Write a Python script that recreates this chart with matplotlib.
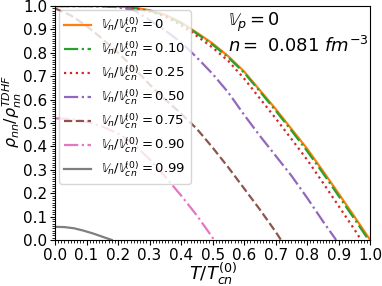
import matplotlib
matplotlib.use("Agg")
import matplotlib.pyplot as plt
from matplotlib.ticker import MultipleLocator, FormatStrFormatter

# superfluid fraction vs T/Tcn for several neutron flows
t_0 = [0, .05, .1, .15, .2, .25, .3, .35, .4, .45, .5, .55, .6, .65, .7, .75, .8, .85, .9, .95, 1.0]
rho_0 = [1.0, 1.0, 1.0, 1.0, .998, .993, .982, .962, .93, .886, .84, .785, .72, .64, .56, .475, .39, .295, .198, .1, 0.0]

t_10 = [0, .05, .1, .15, .2, .25, .3, .35, .4, .45, .5, .55, .6, .65, .7, .75, .8, .85, .9, .95, .995]
rho_10 = [1.0, 1.0, 1.0, 1.0, .998, .992, .98, .96, .927, .882, .835, .78, .715, .635, .553, .468, .38, .286, .188, .09, 0.0]

t_25 = [0, .05, .1, .15, .2, .25, .3, .35, .4, .45, .5, .55, .6, .65, .7, .75, .8, .85, .9, .95, .971]
rho_25 = [1.0, 1.0, 1.0, .999, .996, .99, .977, .955, .918, .872, .822, .765, .69, .605, .52, .432, .343, .245, .145, .045, 0.0]

t_50 = [0, .05, .1, .15, .2, .25, .3, .35, .4, .45, .5, .55, .6, .65, .7, .75, .8, .85, .892]
rho_50 = [1.0, 1.0, 1.0, .999, .995, .982, .94, .895, .845, .78, .71, .63, .535, .445, .36, .275, .18, .08, 0.0]

t_75 = [0, .05, .1, .15, .2, .25, .3, .35, .4, .45, .5, .55, .6, .65, .7, .717]
rho_75 = [.99, .96, .915, .86, .80, .735, .665, .6, .54, .475, .395, .31, .22, .13, .035, 0.0]

t_90 = [0, .05, .1, .15, .2, .25, .3, .35, .4, .45, .5, .503]
rho_90 = [.52, .517, .505, .485, .455, .41, .345, .27, .19, .105, .01, 0.0]

t_99 = [0, .03, .06, .09, .12, .15, .18]
rho_99 = [.056, .055, .05, .04, .028, .014, 0.0]

flows = ["0", "0.10", "0.25", "0.50", "0.75", "0.90", "0.99"]

series = [
    (t_0, rho_0, "C1", "-"),
    (t_10, rho_10, "C2", "-."),
    (t_25, rho_25, "C3", ":"),
    (t_50, rho_50, "C4", "-."),
    (t_75, rho_75, "C5", "--"),
    (t_90, rho_90, "C6", "-."),
    (t_99, rho_99, "C7", "-"),
]

fig = plt.figure(figsize=(3.82, 2.86), dpi=100)
ax = fig.add_axes([0.144, 0.161, 0.825, 0.818])

for (t, r, c, ls), v in zip(series, flows):
    ax.plot(t, r, color=c, ls=ls, lw=1.6,
            label=r"$\mathbb{V}_n/\mathbb{V}_{cn}^{(0)}=%s$" % v)

ax.set_xlim(0, 1)
ax.set_ylim(0, 1)
for a in (ax.xaxis, ax.yaxis):
    a.set_major_locator(MultipleLocator(0.1))
    a.set_minor_locator(MultipleLocator(0.01))
    a.set_major_formatter(FormatStrFormatter("%.1f"))
ax.tick_params(which="major", labelsize=11, length=3.5, pad=2)
ax.tick_params(which="minor", length=2)

ax.set_xlabel(r"$T/T_{cn}^{(0)}$", fontsize=13, labelpad=-1)
ax.set_ylabel(r"$\rho_{nn}/\rho_{nn}^{TDHF}$", fontsize=11.5)
# label coords mark the label's right edge here
ax.yaxis.set_label_coords(-0.098, 0.55)

ax.text(0.55, 0.93, r"$\mathbb{V}_p=0$", fontsize=13, transform=ax.transAxes, va="center")
ax.text(0.55, 0.83, r"$n=$ 0.081 $fm^{-3}$", fontsize=13, transform=ax.transAxes, va="center")

ax.legend(loc="upper left", fontsize=9.5, handlelength=2.0, labelspacing=0.35,
          borderaxespad=0.3, framealpha=0.8)

fig.savefig("out.png", dpi=100)
